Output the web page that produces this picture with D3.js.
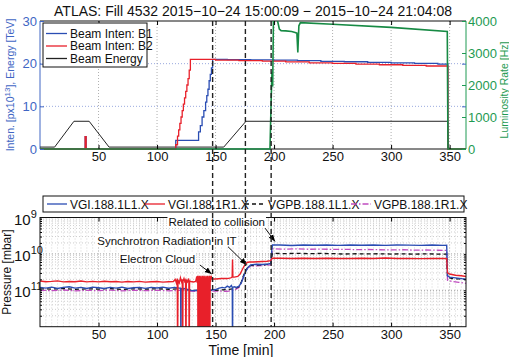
<!DOCTYPE html>
<html>
<head>
<meta charset="utf-8">
<script src="https://cdn.jsdelivr.net/npm/d3@7"></script>
<style>
  body { margin: 0; background: #fff; }
  svg { font-family: "Liberation Sans", Arial, Helvetica, sans-serif; }
</style>
</head>
<body>
<svg id="chart" width="509" height="357"></svg>
<script>
// ---- data (times in min) ----
const timeTicks = [50, 100, 150, 200, 250, 300, 350];
const intenTicks = [0, 10, 20, 30];
const lumTicks = [0, 1000, 2000, 3000, 4000];
const pressTicks = [1e-9, 1e-10, 1e-11];
const pressTickExp = ['9', '10', '11'];
const markerTimes = [147.5, 175.5, 197.5];

// beam energy [TeV]
const beamEnergy = [[0, 0.45], [12.5, 0.45], [29, 6.5], [42, 6.5], [59, 0.45], [157, 0.45], [176, 6.5], [348.5, 6.5], [349, 0], [364, 0]];
// beam intensity [1e13 p], held until next point
const intenB1 = [[0, 0], [38.6, 2.9], [39.4, 0], [116, 2], [135.5, 4], [137, 5.5], [138.5, 7.5], [140, 9], [141.5, 11], [142.5, 12.5], [143.5, 14], [144.5, 16], [145.5, 17.5], [146.5, 19], [147.5, 21], [160, 20.95], [180, 20.9], [200, 20.85], [220, 20.7], [240, 20.55], [260, 20.45], [280, 20.3], [300, 20.2], [320, 20.05], [340, 19.9], [348.5, 0], [364, 0]];
const intenB2 = [[0, 0], [38.6, 2.9], [39.4, 0], [116, 1], [117.5, 3], [118.5, 4.5], [119.5, 6], [120.5, 7.5], [121.5, 9], [122.5, 10.5], [123.5, 12], [124.5, 13.5], [125.5, 15], [126.5, 16.5], [127.5, 18.5], [128.5, 21], [150, 20.85], [170, 20.7], [190, 20.6], [210, 20.4], [230, 20.2], [250, 20.05], [270, 19.9], [290, 19.75], [310, 19.6], [330, 19.45], [348.5, 0], [364, 0]];
// luminosity rate [Hz]
const lumRate = [[0, 0], [196.5, 0], [197.5, 1500], [198.2, 2400], [198.8, 1950], [199.5, 4150], [201, 4100], [203, 4000], [204.5, 3750], [206, 3700], [210, 3690], [215, 3670], [218, 3640], [219.5, 3620], [220.3, 3020], [221.2, 3850], [222.5, 3950], [250, 3900], [300, 3800], [348, 3670], [348.6, 0], [364, 0]];

// pressure [1e-11 mbar]
const vgiL1 = [[0, 1.2], [5, 1.15], [10, 1.22], [15, 1.12], [20, 1.2], [25, 1.25], [30, 1.15], [35, 1.2], [40, 1.12], [45, 1.22], [50, 1.18], [55, 1.12], [60, 1.2], [65, 1.15], [70, 1.22], [75, 1.12], [80, 1.18], [85, 1.2], [90, 1.13], [95, 1.2], [100, 1.16], [105, 1.22], [110, 1.14], [115, 1.2], [119, 1.15], [120.2, 1.15], [120.4, 0.01], [120.6, 1.1], [123, 1.12], [126, 1.05], [128, 1.0], [130, 0.98], [135, 1.0], [140, 0.97], [145, 1.0], [150, 1.05], [153, 1.15], [156, 1.2], [158, 1.15], [160, 1.3], [162, 1.2], [163.5, 1.35], [164.3, 1.2], [164.5, 0.01], [164.7, 1.2], [166, 1.25], [168, 1.2], [170, 1.3], [172, 1.6], [174, 2.4], [176, 3.4], [178, 4.4], [180, 5.0], [185, 5.2], [190, 5.1], [195, 5.3], [197.3, 5.5], [198, 12], [198.6, 17.5], [205, 17.5], [215, 17], [225, 17.5], [235, 17.3], [245, 17.6], [255, 17.2], [265, 17.5], [275, 17.3], [285, 17.6], [295, 17.2], [305, 17.5], [315, 17.4], [325, 17.2], [335, 17.5], [345, 17.2], [347.5, 17.3], [348.2, 2.5], [350, 2.3], [355, 2.2], [360, 2.1], [364, 2.0]];
const vgiR1 = [[0, 1.8], [5, 1.72], [10, 1.76], [15, 1.82], [20, 1.7], [25, 1.75], [30, 1.72], [35, 1.8], [40, 1.7], [45, 1.76], [50, 1.7], [55, 1.78], [60, 1.72], [65, 1.75], [70, 1.68], [75, 1.74], [80, 1.7], [85, 1.76], [90, 1.68], [95, 1.72], [100, 1.74], [105, 1.68], [110, 1.72], [114, 1.74],
  [115.5, 2.0], [116.5, 1.6], [117.3, 2.1], [117.6, 0.01], [117.9, 1.9], [119, 1.6], [120, 2.2], [121, 1.7], [121.6, 2.0], [121.9, 0.01], [122.2, 1.8], [123, 2.1], [124, 1.6], [124.4, 2.0], [124.7, 0.01], [125, 1.9], [126, 1.7], [127, 2.1], [127.2, 1.8], [127.5, 0.01], [127.8, 1.8], [129, 1.75], [131, 1.7], [133, 1.75],
  [134, 2.4], [134.4, 1.6], [134.8, 2.5], [135, 0.01], [135.3, 2.3], [135.7, 1.5], [136.1, 2.5], [136.4, 0.01], [136.7, 2.4], [137.1, 1.6], [137.5, 2.5], [137.9, 0.01], [138.2, 2.3], [138.5, 1.5], [138.9, 2.5], [139.3, 0.01], [139.7, 2.4], [140, 1.6], [140.3, 2.5], [140.7, 0.01], [141.1, 2.3], [141.5, 1.5], [141.8, 2.5], [142.1, 0.01], [142.5, 2.4], [142.9, 1.6], [143.3, 2.5], [143.6, 0.01], [143.9, 2.3], [144.3, 1.5], [144.7, 2.5], [145.1, 0.01], [145.4, 2.4], [145.7, 1.7], [146.1, 2.5],
  [147, 2.05], [150, 2.05], [155, 2.1], [160, 2.1], [163, 2.2], [164.2, 2.3], [164.5, 7], [164.8, 2.3], [166, 2.3], [169, 2.4], [171, 2.8], [173, 3.8], [175, 5.0], [177, 5.8], [179, 6.0], [182, 6.0], [186, 6.1], [190, 6.2], [194, 6.3], [197, 6.5], [197.8, 7.0], [198.3, 7.6],
  [205, 7.6], [215, 7.5], [225, 7.6], [235, 7.5], [245, 7.6], [255, 7.5], [265, 7.5], [275, 7.6], [285, 7.5], [295, 7.7], [305, 7.5], [315, 7.5], [325, 7.4], [335, 7.5], [345, 7.5], [347.5, 7.4], [348.2, 3.0], [350, 2.8], [355, 2.6], [360, 2.5], [364, 2.4]];
const vgpbL1 = [[0, 1.1], [10, 1.08], [20, 1.12], [30, 1.06], [40, 1.1], [50, 1.08], [60, 1.12], [70, 1.06], [80, 1.1], [90, 1.08], [100, 1.1], [110, 1.07], [120, 1.1], [126, 1.05], [130, 1.0], [140, 0.98], [150, 1.0], [160, 1.05], [166, 1.1], [170, 1.25], [172, 1.7], [174, 2.6], [176, 3.6], [178, 4.5], [182, 4.9], [190, 5.0], [197.3, 5.2], [198, 8], [198.6, 10.3], [210, 10.2], [220, 10.4], [230, 10.1], [240, 10.3], [250, 10.2], [260, 9.9], [270, 10.1], [280, 10.0], [290, 10.1], [300, 9.9], [310, 10.0], [320, 9.9], [330, 10.0], [340, 9.9], [347.5, 9.9], [348.2, 2.3], [352, 2.1], [358, 2.05], [364, 2.0]];
const vgpbR1 = [[0, 1.0], [10, 0.98], [20, 1.02], [30, 0.97], [40, 1.0], [50, 0.98], [60, 1.01], [70, 0.97], [80, 1.0], [90, 0.98], [100, 1.0], [110, 0.97], [120, 1.0], [128, 0.95], [140, 0.93], [150, 0.95], [160, 0.94], [166, 1.0], [170, 1.2], [172, 1.6], [174, 2.4], [176, 3.4], [178, 4.3], [182, 4.6], [190, 4.8], [197.3, 5.0], [198, 9], [198.6, 13.8], [210, 13.5], [220, 13.8], [230, 13.4], [240, 13.6], [250, 13.3], [260, 13.4], [270, 13.1], [280, 13.2], [290, 13.0], [300, 12.9], [310, 13.0], [320, 12.7], [330, 12.8], [340, 12.6], [347.5, 12.5], [348.2, 1.9], [352, 1.75], [358, 1.65], [364, 1.55]];

// annotations: text at [t, p], arrow from [t, p] to [t, p]  (p in mbar)
const notes = [
  { label: 'Related to collision', at: [151, 7.7e-10], from: [192.3, 5.1e-10], to: [200.8, 2.2e-10] },
  { label: 'Synchrotron Radiation in IT', at: [108.5, 2.3e-10], from: [160.6, 1.58e-10], to: [176.6, 4.95e-11] },
  { label: 'Electron Cloud', at: [100.4, 7.2e-11], from: [136.7, 4.95e-11], to: [146.7, 2.8e-11] }
];

// ---- layout ----
const L = 40, R = 466;
const topY = [21, 149];
const botY = [217.5, 326.7];
const BLUE = '#2a4db3', RED = '#e8202a', GREEN = '#178a44', MAG = '#c04cc0';
const AXBLUE = '#4066c4', AXGREEN = '#1e9a52';
const TICK_FS = 13;

const svg = d3.select('#chart');

const x = d3.scaleLinear().domain([0, 364]).range([L, R]);
const yI = d3.scaleLinear().domain([0, 30]).range([topY[1], topY[0]]);
const yL = d3.scaleLinear().domain([0, 4000]).range([topY[1], topY[0]]);
const yP = d3.scaleLog().domain([1e-12, 1e-9]).range([botY[1], botY[0]]);

const defs = svg.append('defs');
defs.append('clipPath').attr('id', 'clipTop').append('rect')
  .attr('x', L).attr('y', topY[0]).attr('width', R - L).attr('height', topY[1] - topY[0] + 2);
defs.append('clipPath').attr('id', 'clipBot').append('rect')
  .attr('x', L).attr('y', botY[0]).attr('width', R - L).attr('height', botY[1] - botY[0]);
defs.append('marker').attr('id', 'arrow').attr('viewBox', '0 0 10 10')
  .attr('refX', 10).attr('refY', 5).attr('markerWidth', 7).attr('markerHeight', 7)
  .attr('orient', 'auto')
  .append('path').attr('d', 'M0,1 L10,5 L0,9 z').attr('fill', '#000');

// title
svg.append('text')
  .attr('x', 253).attr('y', 16).attr('text-anchor', 'middle')
  .attr('font-size', 14).attr('fill', '#111')
  .text('ATLAS: Fill 4532 2015−10−24 15:00:09 − 2015−10−24 21:04:08');

// ================= top panel =================
const gTop = svg.append('g');

// grid
gTop.append('g').selectAll('line').data(timeTicks).join('line')
  .attr('x1', d => x(d)).attr('x2', d => x(d))
  .attr('y1', topY[0]).attr('y2', topY[1])
  .attr('stroke', '#9a9a9a').attr('stroke-width', 0.8).attr('stroke-dasharray', '1,2');
gTop.append('g').selectAll('line').data(intenTicks.slice(1, -1)).join('line')
  .attr('x1', L).attr('x2', R)
  .attr('y1', d => yI(d)).attr('y2', d => yI(d))
  .attr('stroke', '#7f93d6').attr('stroke-width', 0.8).attr('stroke-dasharray', '1,2');

// frame (drawn under the data)
gTop.append('line').attr('x1', L).attr('x2', R).attr('y1', topY[0]).attr('y2', topY[0]).attr('stroke', '#111');
gTop.append('line').attr('x1', L).attr('x2', R).attr('y1', topY[1]).attr('y2', topY[1]).attr('stroke', '#111');
gTop.append('line').attr('x1', L).attr('x2', L).attr('y1', topY[0]).attr('y2', topY[1]).attr('stroke', AXBLUE);
gTop.append('line').attr('x1', R).attr('x2', R).attr('y1', topY[0]).attr('y2', topY[1]).attr('stroke', AXGREEN);

const lineI = d3.line().x(d => x(d[0])).y(d => yI(d[1])).curve(d3.curveStepAfter);
const plotTop = gTop.append('g').attr('clip-path', 'url(#clipTop)');

plotTop.append('path').datum(beamEnergy)
  .attr('d', d3.line().x(d => x(d[0])).y(d => yI(d[1])))
  .attr('fill', 'none').attr('stroke', '#222').attr('stroke-width', 1);
plotTop.append('path').datum(intenB1).attr('d', lineI)
  .attr('fill', 'none').attr('stroke', BLUE).attr('stroke-width', 1.3);
plotTop.append('path').datum(intenB2).attr('d', lineI)
  .attr('fill', 'none').attr('stroke', RED).attr('stroke-width', 1.3);
plotTop.append('path').datum(lumRate)
  .attr('d', d3.line().x(d => x(d[0])).y(d => yL(d[1])))
  .attr('fill', 'none').attr('stroke', GREEN).attr('stroke-width', 1.6);

// axes (ticks inside)
gTop.append('g').attr('transform', `translate(0,${topY[1]})`)
  .call(d3.axisBottom(x).tickValues(timeTicks).tickSize(-4).tickPadding(3))
  .call(g => g.select('.domain').remove())
  .call(g => g.selectAll('text').attr('font-size', TICK_FS).attr('fill', '#111').attr('font-family', null));
gTop.append('g').attr('transform', `translate(0,${topY[0]})`)
  .call(d3.axisTop(x).tickValues(timeTicks).tickSize(-4).tickFormat(''))
  .call(g => g.select('.domain').remove());
gTop.append('g').attr('transform', `translate(${L},0)`)
  .call(d3.axisLeft(yI).tickValues(intenTicks).tickSize(-4).tickPadding(3))
  .call(g => g.select('.domain').remove())
  .call(g => g.selectAll('line').attr('stroke', AXBLUE))
  .call(g => g.selectAll('text').attr('font-size', TICK_FS).attr('fill', AXBLUE).attr('font-family', null));
gTop.append('g').attr('transform', `translate(${R},0)`)
  .call(d3.axisRight(yI).tickValues(intenTicks).tickSize(-4).tickFormat(''))
  .call(g => g.select('.domain').remove())
  .call(g => g.selectAll('line').attr('stroke', AXBLUE));
gTop.append('g').attr('transform', `translate(${R},0)`)
  .call(d3.axisRight(yL).tickValues(lumTicks).tickSize(-4).tickPadding(2).tickFormat(d3.format('d')))
  .call(g => g.select('.domain').remove())
  .call(g => g.selectAll('line').attr('stroke', AXGREEN))
  .call(g => g.selectAll('text').attr('font-size', TICK_FS).attr('fill', AXGREEN).attr('font-family', null));

// axis labels
const yLab = gTop.append('text')
  .attr('transform', `translate(14,${(topY[0] + topY[1]) / 2}) rotate(-90)`)
  .attr('text-anchor', 'middle').attr('font-size', 10.5).attr('fill', AXBLUE);
yLab.append('tspan').text('Inten. [px10');
yLab.append('tspan').attr('font-size', 8).attr('dy', -4).text('13');
yLab.append('tspan').attr('dy', 4).text('], Energy [TeV]');
gTop.append('text')
  .attr('transform', `translate(508,${(topY[0] + topY[1]) / 2 + 5}) rotate(-90)`)
  .attr('text-anchor', 'middle').attr('font-size', 10.5).attr('fill', AXGREEN)
  .text('Luminosity Rate [Hz]');

// legend
const legTop = gTop.append('g');
legTop.append('rect').attr('x', 43).attr('y', 23).attr('width', 104).attr('height', 44)
  .attr('fill', '#fff').attr('stroke', '#111');
[['Beam Inten: B1', BLUE], ['Beam Inten: B2', RED], ['Beam Energy', '#222']].forEach((d, i) => {
  const yy = 33.5 + i * 12.5;
  legTop.append('line').attr('x1', 46).attr('x2', 67).attr('y1', yy).attr('y2', yy)
    .attr('stroke', d[1]).attr('stroke-width', 1.3);
  legTop.append('text').attr('x', 70).attr('y', yy + 4).attr('font-size', 12).attr('fill', '#111').text(d[0]);
});

// ================= bottom panel =================
const gBot = svg.append('g');

// minor grid
const minorT = d3.range(5, 364, 5).filter(t => t % 50 !== 0);
gBot.append('g').selectAll('line').data(minorT).join('line')
  .attr('x1', d => x(d)).attr('x2', d => x(d)).attr('y1', botY[0]).attr('y2', botY[1])
  .attr('stroke', '#c4c4c4').attr('stroke-width', 0.7).attr('stroke-dasharray', '1,2');
const minorP = yP.ticks().filter(p => !pressTicks.includes(p) && p > 1e-12 && p < 1e-9);
gBot.append('g').selectAll('line').data(minorP).join('line')
  .attr('x1', L).attr('x2', R).attr('y1', d => yP(d)).attr('y2', d => yP(d))
  .attr('stroke', '#b8b8b8').attr('stroke-width', 0.7).attr('stroke-dasharray', '1,2');
// major grid
gBot.append('g').selectAll('line').data(timeTicks).join('line')
  .attr('x1', d => x(d)).attr('x2', d => x(d)).attr('y1', botY[0]).attr('y2', botY[1])
  .attr('stroke', '#8a8a8a').attr('stroke-width', 0.8).attr('stroke-dasharray', '1,2');
gBot.append('g').selectAll('line').data(pressTicks).join('line')
  .attr('x1', L).attr('x2', R).attr('y1', d => yP(d)).attr('y2', d => yP(d))
  .attr('stroke', '#8a8a8a').attr('stroke-width', 0.8).attr('stroke-dasharray', '1,2');

const lineP = d3.line().x(d => x(d[0])).y(d => yP(d[1] * 1e-11));
const plotBot = gBot.append('g').attr('clip-path', 'url(#clipBot)');
plotBot.append('path').datum(vgpbR1).attr('d', lineP)
  .attr('fill', 'none').attr('stroke', MAG).attr('stroke-width', 1.3).attr('stroke-dasharray', '6,2,1.5,2');
plotBot.append('path').datum(vgpbL1).attr('d', lineP)
  .attr('fill', 'none').attr('stroke', '#111').attr('stroke-width', 1.3).attr('stroke-dasharray', '4,3');
plotBot.append('path').datum(vgiL1).attr('d', lineP)
  .attr('fill', 'none').attr('stroke', BLUE).attr('stroke-width', 1.4);
plotBot.append('path').datum(vgiR1).attr('d', lineP)
  .attr('fill', 'none').attr('stroke', RED).attr('stroke-width', 1.4);

// axes
gBot.append('g').attr('transform', `translate(0,${botY[1]})`)
  .call(d3.axisBottom(x).tickValues(timeTicks).tickSize(-4).tickPadding(3))
  .call(g => g.select('.domain').remove())
  .call(g => g.selectAll('text').attr('font-size', TICK_FS).attr('fill', '#111').attr('font-family', null));
gBot.append('g').attr('transform', `translate(0,${botY[0]})`)
  .call(d3.axisTop(x).tickValues(timeTicks).tickSize(-4).tickFormat(''))
  .call(g => g.select('.domain').remove());
gBot.append('g').attr('transform', `translate(${L},0)`)
  .call(d3.axisLeft(yP).tickValues(pressTicks.concat(minorP)).tickSize(-2).tickFormat(''))
  .call(g => g.select('.domain').remove());
gBot.append('g').attr('transform', `translate(${R},0)`)
  .call(d3.axisRight(yP).tickValues(pressTicks.concat(minorP)).tickSize(-2).tickFormat(''))
  .call(g => g.select('.domain').remove());
gBot.append('rect').attr('x', L).attr('y', botY[0]).attr('width', R - L).attr('height', botY[1] - botY[0])
  .attr('fill', 'none').attr('stroke', '#111');

// log tick labels with superscripts
pressTicks.forEach((p, i) => {
  const t = gBot.append('text').attr('x', 14).attr('y', yP(p) + 7).attr('fill', '#111');
  t.append('tspan').attr('font-size', 15).text('10');
  t.append('tspan').attr('font-size', 11).attr('dy', -7).text(pressTickExp[i]);
});

gBot.append('text')
  .attr('transform', `translate(11,${(botY[0] + botY[1]) / 2}) rotate(-90)`)
  .attr('text-anchor', 'middle').attr('font-size', 12).attr('fill', '#111')
  .text('Pressure [mbar]');
gBot.append('text').attr('x', 241).attr('y', 355).attr('text-anchor', 'middle')
  .attr('font-size', 14).attr('fill', '#111').text('Time [min]');

// annotations
notes.forEach(n => {
  const g = gBot.append('g');
  const t = g.append('text').attr('x', x(n.at[0])).attr('y', yP(n.at[1]) + 4)
    .attr('text-anchor', 'middle').attr('font-size', 11.5).attr('fill', '#111').text(n.label);
  const bb = t.node().getBBox();
  g.insert('rect', 'text').attr('x', bb.x - 1).attr('y', bb.y).attr('width', bb.width + 2).attr('height', bb.height)
    .attr('fill', '#fff');
  g.append('line')
    .attr('x1', x(n.from[0])).attr('y1', yP(n.from[1]))
    .attr('x2', x(n.to[0])).attr('y2', yP(n.to[1]))
    .attr('stroke', '#111').attr('stroke-width', 1).attr('marker-end', 'url(#arrow)');
});

// legend
const legBot = gBot.append('g');
legBot.append('rect').attr('x', 43).attr('y', 196).attr('width', 421).attr('height', 16)
  .attr('fill', '#fff').attr('stroke', '#111');
[
  ['VGI.188.1L1.X', BLUE, null, 47],
  ['VGI.188.1R1.X', RED, null, 145],
  ['VGPB.188.1L1.X', '#111', '4,3', 245],
  ['VGPB.188.1R1.X', MAG, '6,2,1.5,2', 351]
].forEach(d => {
  legBot.append('line').attr('x1', d[3]).attr('x2', d[3] + 20).attr('y1', 204).attr('y2', 204)
    .attr('stroke', d[1]).attr('stroke-width', 1.3).attr('stroke-dasharray', d[2]);
  legBot.append('text').attr('x', d[3] + 23).attr('y', 208.5).attr('font-size', 12).attr('fill', '#111').text(d[0]);
});

// event markers across both panels
svg.append('g').selectAll('line').data(markerTimes).join('line')
  .attr('x1', d => x(d)).attr('x2', d => x(d))
  .attr('y1', topY[0]).attr('y2', botY[1])
  .attr('stroke', '#222').attr('stroke-width', 1.4).attr('stroke-dasharray', '5,3');
</script>
</body>
</html>
